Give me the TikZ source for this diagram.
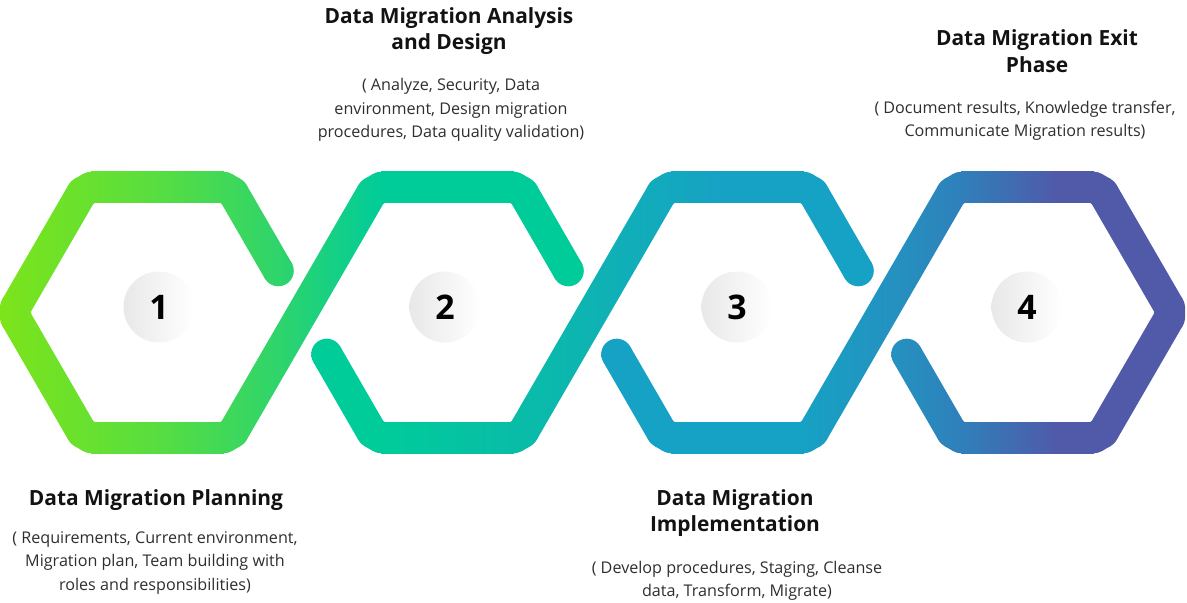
\documentclass[tikz,border=0pt]{standalone}
\usepackage{fontspec}
\setmainfont{Open Sans}
\usetikzlibrary{calc}

\definecolor{lime}{HTML}{7CE41A}
\definecolor{leaf}{HTML}{5ADE3E}
\definecolor{grass}{HTML}{2ED46C}
\definecolor{mint}{HTML}{00CC9A}
\definecolor{sea}{HTML}{0ABAAA}
\definecolor{lagoon}{HTML}{12ABBC}
\definecolor{ocean}{HTML}{16A2C4}
\definecolor{steel}{HTML}{2590C0}
\definecolor{denim}{HTML}{2F80BA}
\definecolor{indigo}{HTML}{5159A9}

\pgfdeclarehorizontalshading{linkone}{100bp}{color(0bp)=(lime); color(25.4bp)=(lime); color(31.6bp)=(leaf); color(37bp)=(grass); color(41.2bp)=(mint); color(100bp)=(mint)}
\pgfdeclarehorizontalshading{linktwo}{100bp}{color(0bp)=(mint); color(41.2bp)=(mint); color(47.8bp)=(sea); color(52.3bp)=(lagoon); color(55.2bp)=(ocean); color(100bp)=(ocean)}
\pgfdeclarehorizontalshading{linkthree}{100bp}{color(0bp)=(ocean); color(58.5bp)=(ocean); color(62.7bp)=(steel); color(65.2bp)=(denim); color(69.3bp)=(indigo); color(100bp)=(indigo)}

% one straight stretch of a link, and one round joint
\newcommand{\linkseg}[3]{%
	\begin{scope}
		\clip ($(#2)!15.5bp!90:(#3)$) -- ($(#3)!15.5bp!-90:(#2)$) -- ($(#3)!15.5bp!90:(#2)$) -- ($(#2)!15.5bp!-90:(#3)$) -- cycle;
		\shade[shading=#1] (-10,140) rectangle (1197,480);
	\end{scope}}
\newcommand{\linkjoint}[2]{%
	\begin{scope}
		\clip (#2) circle[radius=15.5bp];
		\shade[shading=#1] (-10,140) rectangle (1197,480);
	\end{scope}}
% whole link through the points #2-0 ... #2-#3, corners cut by 6bp
\newcommand{\drawlink}[3]{%
	\pgfmathtruncatemacro\lastseg{#3-1}
	\foreach \i [evaluate=\i as \j using int(\i+1)] in {0,...,\lastseg} {
		\coordinate (s) at ($(#2\i)!6bp!(#2\j)$);
		\coordinate (e) at ($(#2\j)!6bp!(#2\i)$);
		\linkseg{#1}{s}{e}
		\linkjoint{#1}{s}
		\linkjoint{#1}{e}
	}
	\foreach \i [evaluate=\i as \h using int(\i-1),evaluate=\i as \j using int(\i+1)] in {1,...,\lastseg} {
		\coordinate (s) at ($(#2\i)!6bp!(#2\h)$);
		\coordinate (e) at ($(#2\i)!6bp!(#2\j)$);
		\linkseg{#1}{s}{e}
	}}

\tikzset{
	numdot/.style={circle,minimum size=71bp,inner sep=0pt,left color=black!9,right color=white,font=\bfseries\fontsize{34}{34}\selectfont},
	steptitle/.style={align=center,text=black!93,font=\bfseries\fontsize{21}{26.5}\selectfont},
	stepdesc/.style={align=center,text=black!82,font=\fontsize{16.2}{23.5}\selectfont}
}

\begin{document}
\begin{tikzpicture}[x=1bp,y=-1bp]
	\useasboundingbox (0,0) rectangle (1187,603);
	% green link
	\coordinate (a0) at (281.3,276);
	\coordinate (a1) at (230,187.3);
	\coordinate (a2) at (85,187.3);
	\coordinate (a3) at (12.5,312.5);
	\coordinate (a4) at (85,437.7);
	\coordinate (a5) at (230,437.7);
	\coordinate (a6) at (375,187.3);
	\coordinate (a7) at (520,187.3);
	\coordinate (a8) at (571.3,276);
	% teal link
	\coordinate (b0) at (323.7,349);
	\coordinate (b1) at (375,437.7);
	\coordinate (b2) at (520,437.7);
	\coordinate (b3) at (665,187.3);
	\coordinate (b4) at (810,187.3);
	\coordinate (b5) at (861.3,276);
	% blue link
	\coordinate (c0) at (613.7,349);
	\coordinate (c1) at (665,437.7);
	\coordinate (c2) at (810,437.7);
	\coordinate (c3) at (955,187.3);
	\coordinate (c4) at (1100,187.3);
	\coordinate (c5) at (1172.5,312.5);
	\coordinate (c6) at (1100,437.7);
	\coordinate (c7) at (955,437.7);
	\coordinate (c8) at (903.7,349);

	\drawlink{linkone}{a}{8}
	\drawlink{linktwo}{b}{5}
	\drawlink{linkthree}{c}{8}

	\node[numdot] (n1) at (159,307) {1};
	\node[numdot] (n2) at (445,307) {2};
	\node[numdot] (n3) at (737,307) {3};
	\node[numdot] (n4) at (1027,307) {4};

	\node[steptitle] (t1) at (156,500) {Data Migration Planning};
	\node[stepdesc] (d1) at (155,563) {( Requirements, Current environment,\\Migration plan, Team building with\\roles and responsibilities)};
	\node[steptitle] (t2) at (449,31) {Data Migration Analysis\\and Design};
	\node[stepdesc] (d2) at (451,110) {( Analyze, Security, Data\\environment, Design migration\\procedures, Data quality validation)};
	\node[steptitle] (t3) at (735,513) {Data Migration\\Implementation};
	\node[stepdesc] (d3) at (737,581) {( Develop procedures, Staging, Cleanse\\data, Transform, Migrate)};
	\node[steptitle] (t4) at (1037,51) {Data Migration Exit\\Phase};
	\node[stepdesc] (d4) at (1025,121) {( Document results, Knowledge transfer,\\Communicate Migration results)};
\end{tikzpicture}
\end{document}
